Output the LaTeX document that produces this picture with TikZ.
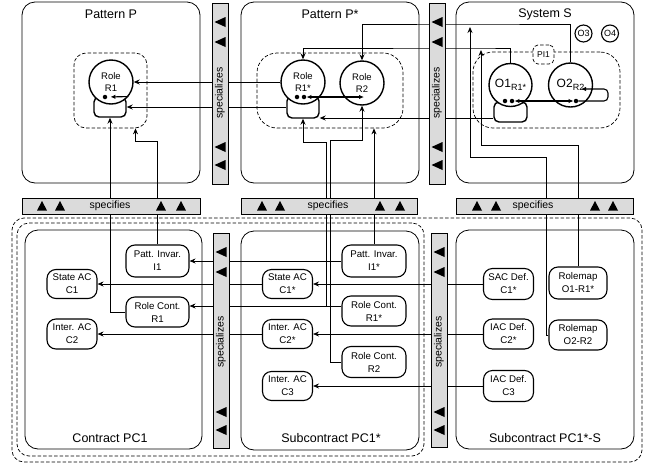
\documentclass[tikz,border=0pt]{standalone}
\usepackage{fontspec}
\setmainfont{Liberation Sans}
\usetikzlibrary{arrows.meta}

\tikzset{
  panel/.style={draw, rounded corners=13pt, line width=0.8pt, inner sep=0pt},
  region/.style={draw, dash pattern=on 3.5pt off 2pt, line width=0.7pt, inner sep=0pt},
  bar/.style={draw, fill=black!14, line width=0.8pt, inner sep=0pt},
  title/.style={font=\fontsize{12.5}{14}\selectfont},
  bartext/.style={font=\fontsize{10.5}{12}\selectfont},
  box/.style={draw, fill=white, rounded corners=9pt, line width=1.1pt, align=center, inner sep=0pt, font=\fontsize{9.7}{13}\selectfont},
  role/.style={draw, circle, fill=white, line width=1.4pt, align=center, inner sep=0pt, minimum size=44pt, font=\fontsize{9.5}{12.5}\selectfont},
  rolebox/.style={draw, rounded corners=5pt, line width=1.4pt, inner sep=0pt, minimum width=32pt},
  dot/.style={circle, fill, inner sep=0pt, minimum size=4.5pt},
  spec/.style={line width=0.8pt, -{Stealth[length=6pt,width=5pt,inset=2pt]}},
  port/.style={line width=1.1pt, {Latex[length=5pt,width=4.5pt]}-{Latex[length=5pt,width=4.5pt]}},
  portin/.style={line width=1.1pt, -{Latex[length=5pt,width=4.5pt]}},
}

\begin{document}
\begin{tikzpicture}[x=1pt,y=-1pt]
\useasboundingbox (0,0) rectangle (651,464);

% top panels
\node[panel, minimum width=178pt, minimum height=181pt] (patP) at (111,92.5) {};
\node[title] (patPt) at (111,14) {Pattern P};
\node[panel, minimum width=178pt, minimum height=181pt] (patPs) at (330,92.5) {};
\node[title] (patPst) at (330,14) {Pattern P*};
\node[panel, minimum width=178pt, minimum height=181pt] (sysS) at (545,92.5) {};
\node[title] (sysSt) at (545,14) {System S};

\node[region, rounded corners=12pt, minimum width=73pt, minimum height=75pt] (regP) at (110.5,90.5) {};
\node[region, rounded corners=20pt, minimum width=146pt, minimum height=75pt] (regPs) at (330,90.5) {};
\node[region, rounded corners=20pt, minimum width=147pt, minimum height=76pt] (regS) at (546.5,90) {};
\node[region, rounded corners=5pt, fill=white, minimum width=21pt, minimum height=19pt, font=\fontsize{8.5}{10}\selectfont] (pi1) at (543.5,54.5) {PI1};

% roles and objects
\node[rolebox, minimum height=20pt] (boxR1) at (110,107) {};
\node[rolebox, minimum height=22pt] (boxR1s) at (303,107) {};
\node[rolebox, minimum width=33pt, minimum height=20pt] (boxO1) at (510.5,112) {};

\node[role] (roleR1) at (111,82) {Role\\R1};
\node[role] (roleR1s) at (303,82) {Role\\R1*};
\node[role] (roleR2) at (362,83) {Role\\R2};
\node[role, minimum size=43pt, font=\fontsize{12}{14}\selectfont] (o1) at (510.5,85) {O1\raisebox{-0.45ex}{\fontsize{9}{10}\selectfont R1*}};
\node[role, font=\fontsize{12}{14}\selectfont] (o2) at (570.5,85) {\raisebox{3pt}{O2\raisebox{-0.45ex}{\fontsize{9}{10}\selectfont R2}}};
\node[draw, circle, line width=1.1pt, minimum size=17pt, inner sep=0pt, font=\fontsize{9}{10}\selectfont] (o3) at (583.5,33.5) {O3};
\node[draw, circle, line width=1.1pt, minimum size=17pt, inner sep=0pt, font=\fontsize{9}{10}\selectfont] (o4) at (610,33.5) {O4};

\node[dot] (dR1) at (105,97) {};
\node[dot] (dR1s) at (297,97) {};
\node[dot] (dR1sb) at (304,97) {};
\node[dot] (dO1) at (505,101) {};
\node[dot] (dO1b) at (512,101) {};
\node[dot] (dO2) at (576,101) {};
\coordinate (r2port) at (364,97);
\coordinate (o2loop) at (581,89);

\draw[portin, shorten >=3pt] (roleR1.-40) -- (dR1);
\draw[port] (dR1sb) -- (r2port);
\draw[port] (dO1b) -- (dO2);
\draw[portin, rounded corners=4pt] (dO2) -- (608,101) -- (608,89) -- (o2loop);

% bottom panels
\node[region, rounded corners=12pt, minimum width=630pt, minimum height=244pt] (outerD) at (327,340) {};
\node[region, rounded corners=12pt, minimum width=407pt, minimum height=233pt] (innerD) at (220.5,339.5) {};
\node[panel, minimum width=177pt, minimum height=219pt] (pc1) at (113.5,339.5) {};
\node[title] (pc1t) at (110,438) {Contract PC1};
\node[panel, minimum width=178pt, minimum height=219pt] (pc1s) at (330,340.5) {};
\node[title] (pc1st) at (331,438) {Subcontract PC1*};
\node[panel, minimum width=178pt, minimum height=219pt] (pc1ss) at (545,339.5) {};
\node[title] (pc1sst) at (545,438) {Subcontract PC1*-S};

\node[box, minimum width=63pt, minimum height=32pt] (i1) at (157.5,261) {Patt. Invar.\\I1};
\node[box, minimum width=50pt, minimum height=29pt] (c1) at (72,284) {State AC\\C1};
\node[box, minimum width=63pt, minimum height=30pt] (r1c) at (157.5,312) {Role Cont.\\R1};
\node[box, minimum width=50pt, minimum height=30pt] (c2) at (72,334) {Inter. AC\\C2};

\node[box, minimum width=64pt, minimum height=32pt] (i1s) at (374,261) {Patt. Invar.\\I1*};
\node[box, minimum width=50pt, minimum height=29pt] (c1s) at (287.5,284) {State AC\\C1*};
\node[box, minimum width=64pt, minimum height=30pt] (r1cs) at (374,311) {Role Cont.\\R1*};
\node[box, minimum width=50pt, minimum height=29pt] (c2s) at (287.5,334) {Inter. AC\\C2*};
\node[box, minimum width=64pt, minimum height=31pt] (r2c) at (374,362) {Role Cont.\\R2};
\node[box, minimum width=50pt, minimum height=29pt] (c3) at (287.5,386) {Inter. AC\\C3};

\node[box, minimum width=50pt, minimum height=31pt] (sac1) at (508.5,284) {SAC Def.\\C1*};
\node[box, minimum width=58pt, minimum height=32pt] (rm1) at (578,283) {Rolemap\\O1-R1*};
\node[box, minimum width=50pt, minimum height=30pt] (iac2) at (508.5,334) {IAC Def.\\C2*};
\node[box, minimum width=58pt, minimum height=30pt] (rm2) at (578,335) {Rolemap\\O2-R2};
\node[box, minimum width=50pt, minimum height=31pt] (iac3) at (508.5,386) {IAC Def.\\C3};

% specializes
\draw[spec] (i1s.west) -- (i1.east);
\draw[spec] (c1s.west) -- (c1.east);
\draw[spec] ([yshift=5pt]r1cs.west) -- ([yshift=5pt]r1cs.west -| r1c.east);
\draw[spec] (c2s.west) -- (c2.east);
\draw[spec] (sac1.west) -- (c1s.east);
\draw[spec] (iac2.west) -- (c2s.east);
\draw[spec] (iac3.west) -- (c3.east);
\draw[spec] (roleR1s.west) -- (roleR1.east);
\draw[spec] (boxR1s.west) -- (boxR1.east);
\draw[spec] ([yshift=-6pt]boxO1.west) -- ([yshift=-6pt]boxO1.west -| boxR1s.east);
\coordinate (mapA) at (481,48);
\coordinate (mapB) at (470,24);
\draw[spec] (o1.north) |- (mapA) -| (roleR1s.north);
\draw[spec] (o2.north) |- (mapB) -| (roleR2.north);

% specifies
\draw[spec] (r1c.west) -| (boxR1.south);
\draw[spec] (i1.north) |- ([xshift=25pt,yshift=-13pt]regP.south) -- ([xshift=25pt]regP.south);
\draw[spec] (i1s.north) -- (i1s.north |- regPs.south);
\draw[spec] ([yshift=5pt]r1cs.west) -| (326,142) -| (boxR1s.south);
\draw[spec] (r2c.west) -| (330,140) -| (roleR2.south);
\draw[spec, shorten >=2pt] (rm1.north) |- (481,145) -- (mapA);
\draw[spec, shorten >=3pt] (rm2.west) -| (546,157) -| (mapB);

% bars
\node[bar, minimum width=16pt, minimum height=181pt] (spz1) at (220,93.5) {};
\node[bar, minimum width=16pt, minimum height=181pt] (spz2) at (437,93.5) {};
\node[bar, minimum width=16pt, minimum height=215pt] (spz3) at (221,340.5) {};
\node[bar, minimum width=16pt, minimum height=214pt] (spz4) at (439,340) {};
\node[bar, minimum width=178pt, minimum height=16pt] (spf1) at (111,206) {};
\node[bar, minimum width=176pt, minimum height=16pt] (spf2) at (329,206) {};
\node[bar, minimum width=177pt, minimum height=16pt] (spf3) at (544.5,206) {};

\node[bartext, rotate=90] (spz1t) at (220,93) {specializes};
\node[bartext, rotate=90] (spz2t) at (437,93) {specializes};
\node[bartext, rotate=90] (spz3t) at (221,342) {specializes};
\node[bartext, rotate=90] (spz4t) at (439,342) {specializes};
\node[bartext] (spf1t) at (110,205.5) {specifies};
\node[bartext] (spf2t) at (328,205.5) {specifies};
\node[bartext] (spf3t) at (533,205.5) {specifies};

\foreach \x in {220,437} \foreach \y in {22,42,147,165}
  \fill (\x,\y) +(-5.5,0) -- +(5.5,-5) -- +(5.5,5) -- cycle;
\foreach \x in {221,439} \foreach \y in {252,272,412,430}
  \fill (\x,\y) +(-5.5,0) -- +(5.5,-5) -- +(5.5,5) -- cycle;
\foreach \x in {42,60,161,181,262,280,380,400,477,496,595,613}
  \fill (\x,206) +(0,-5) -- +(5,4.5) -- +(-5,4.5) -- cycle;

\end{tikzpicture}
\end{document}
